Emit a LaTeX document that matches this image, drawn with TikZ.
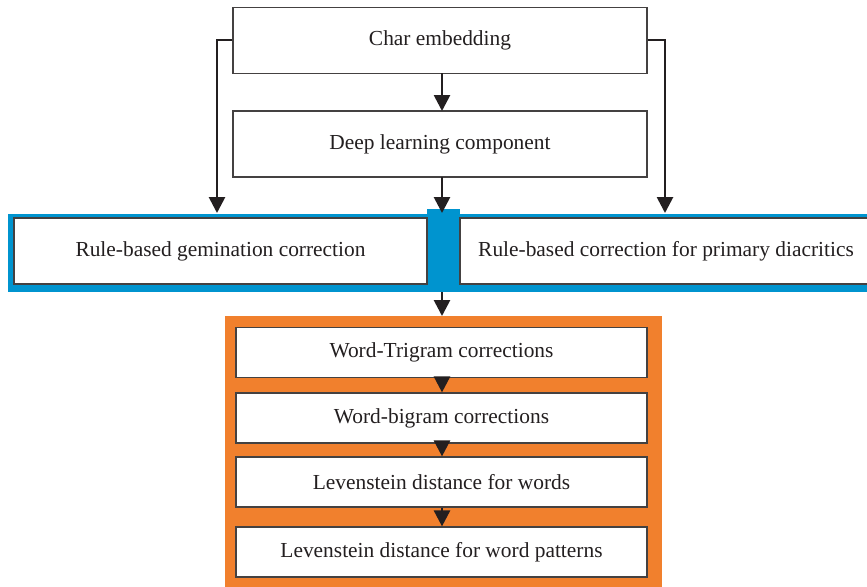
\documentclass[tikz,border=0pt]{standalone}
\usepackage{fontspec}
\setmainfont{Liberation Serif}
\usetikzlibrary{arrows.meta}
\definecolor{bandblue}{RGB}{0,148,207}
\definecolor{bandorange}{RGB}{241,128,45}
\definecolor{ink}{RGB}{35,31,32}
\begin{document}
\begin{tikzpicture}[x=0.5pt,y=-0.5pt,
  stepbox/.style={draw=ink!85, line width=0.6pt, fill=white, text=ink, inner sep=0pt,
    font=\fontsize{10.7}{12}\selectfont},
  bigbox/.style={stepbox, minimum width=207pt, minimum height=33pt},
  smallbox/.style={stepbox, minimum width=205.5pt, minimum height=25pt},
  arr/.style={draw=ink, line width=1.35pt, -{Triangle[width=8pt,length=8pt]}}]
\useasboundingbox (0,0) rectangle (867,586);
% backgrounds
\node[fill=bandblue, inner sep=0pt, minimum width=431pt, minimum height=39pt] (blue) at (439,253) {};
\fill[bandblue] (427,209) rectangle (460,216);
\node[fill=bandorange, inner sep=0pt, minimum width=218.5pt, minimum height=137pt] (orange) at (443.5,590) [anchor=south] {};
% boxes
\node[bigbox] (char) at (440,40.5) {Char embedding};
\node[bigbox] (deep) at (440,144) {Deep learning component};
\node[bigbox, minimum width=206.5pt] (gem) at (220.5,251) {Rule-based gemination correction};
\node[bigbox, minimum width=206pt] (prim) at (666,251) {Rule-based correction for primary diacritics};
\node[smallbox] (t1) at (441.5,352.5) {Word-Trigram corrections};
\node[smallbox] (t2) at (441.5,418) {Word-bigram corrections};
\node[smallbox] (t3) at (441.5,482) {Levenstein distance for words};
\node[smallbox] (t4) at (441.5,552) {Levenstein distance for word patterns};
% connectors
\coordinate (lend) at (217,213);
\coordinate (rend) at (665,213);
\coordinate (cend) at (442,213);
\draw[arr] (char.west |- 0,40) -| (lend);
\draw[arr] (char.east |- 0,40) -| (rend);
\draw[arr] (442,73) -- (442,111);
\draw[arr] (442,177) -- (cend);
\draw[arr] (442,292) -- (442,316);
\draw[arr] (t1.south -| 442,0) -- (t2.north -| 442,0);
\draw[arr] (t2.south -| 442,0) -- (t3.north -| 442,0);
\draw[arr] (t3.south -| 442,0) -- (t4.north -| 442,0);
\end{tikzpicture}
\end{document}
